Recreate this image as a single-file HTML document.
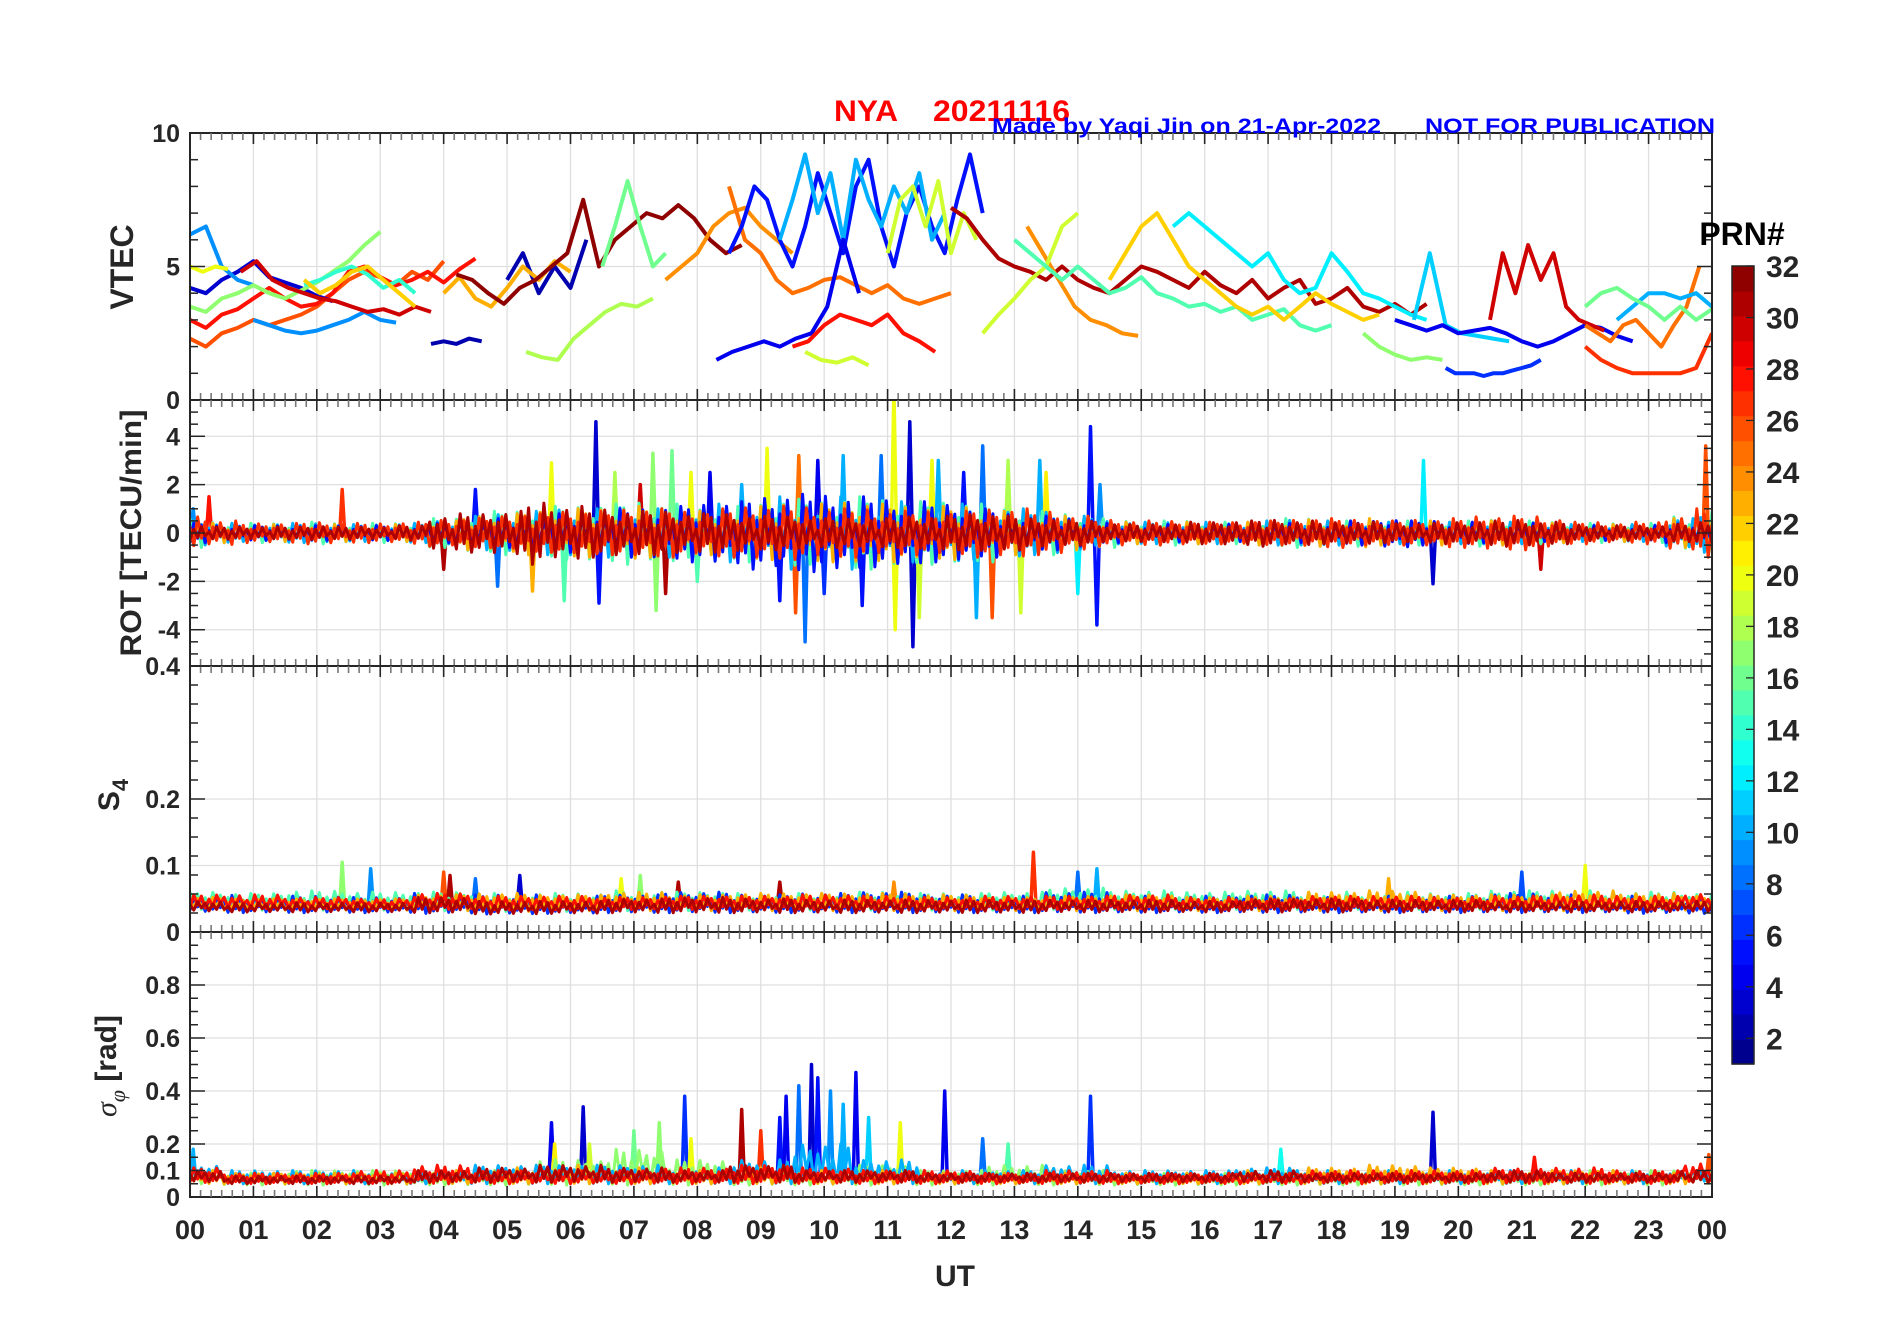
<!DOCTYPE html>
<html><head><meta charset="utf-8"><title>NYA 20211116</title>
<style>
html,body{margin:0;padding:0;background:#fff;}
svg{display:block;font-family:"Liberation Sans",Arial,sans-serif;}
</style></head>
<body>
<svg id="fig" width="1902" height="1330" viewBox="0 0 1902 1330" xmlns="http://www.w3.org/2000/svg">
<defs>
<clipPath id="c1"><rect x="190" y="133" width="1522" height="267"/></clipPath>
<clipPath id="c2"><rect x="190" y="400" width="1522" height="266"/></clipPath>
<clipPath id="c3"><rect x="190" y="666" width="1522" height="266"/></clipPath>
<clipPath id="c4"><rect x="190" y="932" width="1522" height="265"/></clipPath>
</defs>
<g id="grid"></g>
<g id="marks"></g>
<g id="axes"></g>
<g id="cbar"></g>
<text y="121" fill="#ff0000" font-size="30" font-weight="bold"><tspan x="834" textLength="64" lengthAdjust="spacingAndGlyphs">NYA</tspan><tspan x="933" textLength="137" lengthAdjust="spacingAndGlyphs">20211116</tspan></text>
<text x="992" y="133" fill="#0000ff" font-size="21" font-weight="bold" textLength="389" lengthAdjust="spacingAndGlyphs">Made by Yaqi Jin on 21-Apr-2022</text>
<text x="1425" y="133" fill="#0000ff" font-size="21" font-weight="bold" textLength="290" lengthAdjust="spacingAndGlyphs">NOT FOR PUBLICATION</text>
<text x="955" y="1286" fill="#262626" font-size="30" font-weight="bold" text-anchor="middle">UT</text>
<text transform="translate(133,267) rotate(-90)" fill="#262626" font-size="32" font-weight="bold" text-anchor="middle">VTEC</text>
<text transform="translate(141,533) rotate(-90)" fill="#262626" font-size="30" font-weight="bold" text-anchor="middle" textLength="247" lengthAdjust="spacingAndGlyphs">ROT [TECU/min]</text>
<text transform="translate(119,795) rotate(-90)" fill="#262626" font-size="30" font-weight="bold" text-anchor="middle">S<tspan font-size="22" dy="9">4</tspan></text>
<text transform="translate(116,1066) rotate(-90)" fill="#262626" font-size="30" font-weight="bold" text-anchor="middle"><tspan font-family="Liberation Serif,serif" font-style="italic" font-weight="normal">σ</tspan><tspan font-family="Liberation Serif,serif" font-style="italic" font-weight="normal" font-size="22" dy="9">φ</tspan><tspan dy="-9"> [rad]</tspan></text>
<text x="1742" y="245" fill="#000" font-size="32" font-weight="bold" text-anchor="middle">PRN#</text>
</svg>
<script>
// ---------- data ----------
var hourLabels = ["00","01","02","03","04","05","06","07","08","09","10","11","12","13","14","15","16","17","18","19","20","21","22","23","00"];
var vtecTicks = [0,5,10];
var rotTicks = [-4,-2,0,2,4];
var s4Ticks = [0,0.1,0.2,0.4];
var sigTicks = [0,0.1,0.2,0.4,0.6,0.8];
var cbarTicks = [2,4,6,8,10,12,14,16,18,20,22,24,26,28,30,32];

// VTEC tracks: PRN, start hour, step (h), values
var trackPrn   = [26,28,3,9,9,17,14,30,22,20,2,2,23,32,18,16,24,25,5,10,4,28,19,19,31,24,19,15,22,12,11,4,17,6,30,27,25,10,16];
var trackStart = [0,0,0,0,1.0,0,1.8,0.8,1.8,0,3.8,5.0,4.0,4.2,5.3,6.5,7.5,8.5,8.5,9.3,8.3,9.5,9.7,11.0,12.0,13.2,12.5,13.0,14.5,15.5,19.3,19.0,18.5,19.8,20.5,22.0,22.0,22.5,22.0];
var trackStep  = [0.25,0.25,0.25,0.25,0.25,0.25,0.25,0.25,0.25,0.2,0.2,0.25,0.25,0.25,0.25,0.2,0.25,0.25,0.2,0.2,0.25,0.25,0.25,0.2,0.25,0.25,0.25,0.25,0.25,0.25,0.25,0.25,0.25,0.15,0.2,0.25,0.2,0.25,0.25];
var trackVals  = [
 [2.3,2.0,2.5,2.7,3.0,2.8,3.0,3.2,3.5,4.0,4.5,4.8,4.6,4.3,4.8,4.5,5.2],
 [3.0,2.7,3.2,3.4,3.8,4.2,3.8,3.5,3.6,4.0,4.8,5.0,4.6,4.3,4.5,4.8,4.4,4.9,5.3],
 [4.2,4.0,4.5,4.8,5.2,4.6,4.4,4.2,3.9,3.7],
 [6.2,6.5,5.0,4.5,4.3],
 [3.0,2.8,2.6,2.5,2.6,2.8,3.0,3.3,3.0,2.9],
 [3.5,3.3,3.8,4.0,4.3,4.0,3.8,4.1,4.4,4.8,5.2,5.8,6.3],
 [4.3,4.5,4.8,5.0,4.7,4.2,4.5,4.0],
 [4.8,5.2,4.5,4.2,4.0,3.8,3.7,3.5,3.3,3.4,3.2,3.5,3.3],
 [4.5,4.0,4.3,4.8,5.0,4.5,4.0,3.5],
 [5.0,4.8,5.0,4.9],
 [2.1,2.2,2.1,2.3,2.2],
 [4.5,5.5,4.0,5.0,4.2,6.0],
 [4.0,4.6,3.8,3.5,4.2,5.0,4.5,5.2,4.8],
 [4.7,4.5,4.0,3.6,4.2,4.5,5.0,5.5,7.5,5.0,6.0,6.5,7.0,6.8,7.3,6.8,6.0,5.5,5.8],
 [1.8,1.6,1.5,2.3,2.8,3.3,3.6,3.5,3.8],
 [5.0,6.5,8.2,6.5,5.0,5.5],
 [4.5,5.0,5.5,6.5,7.0,7.2,6.5,6.0,5.5],
 [8.0,6.0,5.5,4.5,4.0,4.2,4.5,4.6,4.3,4.0,4.3,3.8,3.6,3.8,4.0],
 [5.5,6.5,8.0,7.5,6.0,5.0,6.5,8.5,7.0,5.5,8.0,9.0,6.5,5.0,7.0,8.0,6.5,5.5,7.5,9.2,7.0],
 [6.0,7.5,9.2,7.0,8.5,6.0,9.0,7.5,6.5,8.0,7.0,8.5,6.0,7.0],
 [1.5,1.8,2.0,2.2,2.0,2.3,2.5,3.5,6.0,4.0],
 [2.0,2.2,2.8,3.2,3.0,2.8,3.2,2.5,2.2,1.8],
 [1.8,1.5,1.4,1.6,1.3],
 [5.5,7.5,8.0,6.5,8.2,5.5,7.0,6.0],
 [7.2,6.8,6.0,5.3,5.0,4.8,4.5,5.0,4.5,4.2,4.0,4.5,5.0,4.8,4.5,4.2,4.8,4.3,4.0,4.5,3.8,4.2,4.5,3.6,3.8,4.2,3.5,3.3,3.6,3.2,3.6],
 [6.5,5.5,4.5,3.5,3.0,2.8,2.5,2.4],
 [2.5,3.2,3.8,4.5,5.0,6.5,7.0],
 [6.0,5.5,5.0,4.5,5.0,4.5,4.0,4.2,4.6,4.0,3.8,3.5,3.6,3.3,3.5,3.0,3.2,3.4,2.8,2.6,2.8],
 [4.5,5.5,6.5,7.0,6.0,5.0,4.5,4.0,3.5,3.2,3.5,3.0,3.5,4.0,3.6,3.3,3.0,3.2],
 [6.5,7.0,6.5,6.0,5.5,5.0,5.5,4.5,4.0,4.2,5.5,4.8,4.0,3.8,3.5,3.2,3.0],
 [3.0,5.5,2.8,2.5,2.4,2.3,2.2],
 [3.0,2.8,2.6,2.8,2.5,2.6,2.7,2.5,2.2,2.0,2.2,2.5,2.8,2.7,2.4,2.2],
 [2.5,2.0,1.7,1.5,1.6,1.5],
 [1.2,1.0,1.0,1.0,0.9,1.0,1.0,1.1,1.2,1.3,1.5],
 [3.0,5.5,4.0,5.8,4.5,5.5,3.5,3.0,2.8,2.6],
 [2.0,1.5,1.2,1.0,1.0,1.0,1.0,1.2,2.5],
 [2.8,2.5,2.2,2.8,3.0,2.5,2.0,2.8,3.5,5.0],
 [3.0,3.5,4.0,4.0,3.8,4.0,3.5],
 [3.5,4.0,4.2,3.8,3.5,3.0,3.5,3.0,3.4]
];

// ROT noise bands: PRN and half-amplitude every 0.5 h (49 values)
var rotBandPrn = [15,10,23,5,27,31];
var rotBandAmp = [
 [.6,.45,.4,.4,.45,.4,.4,.4, .6,.8,.9,1.0,1.1,1.2,1.3,1.2, 1.0,1.1,1.2,1.4,1.3,1.5,1.4,1.3, 1.3,1.2,1.0,.9,.8,.6,.5,.5, .5,.45,.55,.6,.5,.55,.5,.5, .5,.55,.5,.45,.4,.4,.4,.7,.9],
 [.55,.4,.35,.4,.4,.35,.35,.4, .5,.7,.8,.9,1.0,1.0,1.1,1.0, 1.1,1.2,1.3,1.5,1.4,1.5,1.3,1.2, 1.2,1.1,1.0,.9,.7,.5,.45,.45, .45,.4,.5,.55,.5,.5,.45,.45, .45,.5,.45,.4,.35,.35,.35,.6,.8],
 [.5,.4,.35,.35,.4,.35,.35,.35, .5,.7,.8,.9,1.0,1.0,1.1,1.0, .9,1.0,1.1,1.2,1.2,1.3,1.2,1.1, 1.1,1.0,.9,.8,.7,.5,.45,.45, .45,.45,.5,.55,.55,.6,.5,.5, .5,.5,.45,.4,.35,.35,.35,.6,.9],
 [.4,.3,.3,.3,.3,.3,.3,.3, .4,.5,.6,.7,.8,.9,1.0,1.1, 1.2,1.3,1.5,1.6,1.6,1.5,1.4,1.3, 1.2,1.0,.8,.7,.6,.4,.35,.35, .35,.35,.4,.4,.45,.5,.6,.5, .45,.4,.4,.35,.3,.3,.3,.4,.5],
 [.7,.5,.4,.4,.45,.4,.4,.45, .55,.6,.7,.8,.9,.9,1.0,1.0, .9,1.0,1.1,1.1,1.0,1.0,.9,.9, .9,1.0,1.0,.9,.7,.55,.5,.5, .45,.45,.5,.55,.6,.55,.5,.55, .6,.7,.7,.6,.45,.4,.45,.7,1.0],
 [.3,.25,.25,.25,.3,.25,.25,.3, .7,.8,.9,1.3,1.1,1.0,.9,.9, .8,.8,.7,.7,.6,.6,.6,.7, .7,.8,.7,.6,.5,.4,.35,.4, .45,.5,.55,.5,.45,.45,.4,.4, .45,.5,.55,.45,.35,.3,.3,.35,.45]
];
// ROT spikes: hour, value, PRN
var rotSpikeT = [0.05,0.3,2.4,4.0,4.5,4.85,5.4,5.7,5.9,6.4,6.45,6.7,7.1,7.3,7.35,7.5,7.6,7.9,8.0,8.2,8.7,9.1,9.3,9.55,9.6,9.7,9.9,10.0,10.3,10.6,10.9,11.1,11.12,11.35,11.4,11.5,11.7,11.8,12.2,12.4,12.5,12.65,12.9,13.1,13.4,13.5,14.0,14.2,14.3,14.35,19.45,19.6,21.3,23.9,23.95];
var rotSpikeV = [1.0,1.5,1.8,-1.5,1.8,-2.2,-2.4,2.9,-2.8,4.6,-2.9,2.5,2.0,3.3,-3.2,-2.5,3.4,2.5,-2.0,2.5,2.0,3.5,-2.8,-3.3,3.2,-4.5,3.0,-2.5,3.2,-3.0,3.2,6.0,-4.0,4.6,-4.7,-3.5,3.0,3.0,2.5,-3.5,3.6,-3.5,3.0,-3.3,3.0,2.5,-2.5,4.4,-3.8,2.0,3.0,-2.1,-1.5,3.6,-0.8];
var rotSpikeP = [9,28,27,31,5,8,23,20,15,3,5,18,30,17,17,31,16,20,15,4,10,20,5,26,25,8,4,6,10,5,8,20,20,3,3,19,20,10,5,10,8,26,18,19,10,21,12,5,5,9,12,3,30,26,17];

// S4 bands: PRN, low and high every 1 h (25 values)
var s4BandPrn = [15,6,23,28,31];
var s4BandLo = [
 [.034,.033,.033,.033,.032,.031,.031,.032,.032,.033,.033,.033,.033,.033,.034,.034,.034,.034,.034,.034,.034,.034,.034,.034,.034],
 [.030,.029,.029,.029,.028,.027,.028,.029,.029,.029,.029,.029,.029,.029,.029,.029,.029,.029,.029,.029,.029,.029,.029,.028,.028],
 [.033,.033,.033,.033,.032,.031,.032,.032,.032,.032,.032,.032,.032,.032,.032,.032,.032,.032,.032,.032,.032,.032,.032,.032,.033],
 [.036,.035,.035,.035,.034,.033,.033,.034,.034,.034,.034,.034,.034,.034,.034,.034,.034,.034,.034,.034,.034,.034,.034,.034,.035],
 [.031,.030,.030,.030,.029,.027,.028,.029,.029,.029,.029,.029,.029,.029,.030,.030,.030,.030,.030,.030,.030,.030,.030,.030,.031]
];
var s4BandHi = [
 [.060,.058,.062,.060,.060,.058,.058,.062,.060,.058,.058,.060,.058,.060,.066,.062,.060,.062,.060,.060,.058,.062,.062,.060,.058],
 [.052,.055,.054,.052,.058,.056,.054,.056,.060,.056,.058,.060,.056,.054,.060,.054,.054,.056,.052,.054,.054,.058,.056,.054,.050],
 [.052,.050,.050,.050,.056,.058,.056,.060,.056,.058,.058,.058,.056,.052,.054,.056,.052,.054,.060,.062,.056,.056,.062,.058,.054],
 [.056,.056,.052,.050,.058,.054,.054,.052,.054,.054,.056,.054,.052,.054,.054,.056,.052,.050,.054,.054,.052,.054,.056,.054,.058],
 [.046,.044,.044,.044,.052,.046,.046,.050,.052,.050,.048,.048,.048,.048,.048,.048,.046,.050,.050,.048,.048,.046,.046,.046,.046]
];
var s4SpikeT = [2.4,2.85,4.0,4.1,4.5,5.2,6.8,7.1,7.7,9.3,11.1,13.3,14.0,14.3,21.0,22.0,18.9];
var s4SpikeV = [.105,.095,.09,.085,.08,.085,.08,.085,.075,.075,.075,.12,.09,.095,.09,.1,.08];
var s4SpikeP = [17,9,26,31,8,3,20,17,31,31,24,27,8,10,7,20,23];

// sigma-phi bands: PRN, low and high every 1 h (25 values)
var sigBandPrn = [17,10,23,28,31];
var sigBandLo = [
 [.05,.045,.045,.045,.045,.045,.045,.045,.045,.045,.045,.045,.045,.045,.045,.045,.045,.045,.045,.045,.045,.045,.045,.045,.05],
 [.06,.05,.05,.05,.05,.05,.05,.05,.05,.05,.05,.05,.05,.05,.05,.05,.05,.05,.05,.05,.05,.05,.05,.05,.06],
 [.05,.05,.05,.05,.05,.05,.05,.05,.05,.05,.05,.05,.05,.05,.05,.05,.05,.05,.05,.05,.05,.05,.05,.05,.05],
 [.055,.05,.05,.05,.05,.05,.05,.05,.05,.05,.05,.05,.05,.05,.05,.05,.05,.05,.05,.05,.05,.05,.05,.05,.055],
 [.055,.05,.05,.05,.055,.055,.055,.055,.055,.055,.055,.055,.055,.055,.055,.055,.055,.055,.055,.055,.055,.055,.055,.055,.055]
];
var sigBandHi = [
 [.10,.09,.10,.10,.09,.10,.14,.18,.14,.10,.10,.12,.10,.12,.10,.09,.09,.09,.09,.10,.09,.09,.10,.10,.10],
 [.12,.10,.10,.10,.10,.12,.12,.12,.11,.14,.20,.14,.10,.10,.12,.10,.10,.11,.10,.10,.10,.10,.10,.10,.10],
 [.10,.09,.09,.09,.10,.11,.12,.11,.10,.11,.10,.10,.09,.09,.09,.09,.09,.10,.11,.12,.11,.10,.10,.09,.10],
 [.11,.09,.09,.10,.12,.10,.10,.10,.11,.12,.11,.10,.10,.09,.10,.09,.09,.09,.10,.10,.10,.11,.11,.10,.13],
 [.10,.08,.08,.08,.10,.11,.12,.11,.10,.12,.10,.10,.09,.09,.09,.09,.09,.10,.09,.09,.09,.10,.09,.09,.10]
];
var sigSpikeT = [0.05,5.7,5.75,6.2,6.3,7.0,7.4,7.8,7.9,8.7,9.0,9.3,9.4,9.6,9.8,9.9,10.1,10.3,10.5,10.7,11.2,11.9,12.5,12.9,14.2,17.2,19.6,21.2,23.95];
var sigSpikeV = [.18,.28,.2,.34,.2,.25,.28,.38,.22,.33,.25,.3,.38,.42,.5,.45,.4,.35,.47,.3,.28,.4,.22,.2,.38,.18,.32,.15,.16];
var sigSpikeP = [10,4,21,3,19,16,17,6,20,31,27,5,4,8,3,5,9,10,4,11,20,4,8,15,6,13,3,28,26];

// ---------- geometry ----------
var X0 = 190, X1 = 1712;
function X(t){ return X0 + t*(X1-X0)/24; }
function Yv(v){ return 400 - v*26.7; }
function Yr(v){ return 533 - v*(133/5.5); }
function Ys(v){ return 932 - v*(266/0.4); }
function Yp(v){ return 1197 - v*265; }
function jet(p){
  var x = (p-0.5)/32;
  function c(a){ return Math.round(255*Math.max(0,Math.min(1,a))); }
  return 'rgb('+c(1.5-Math.abs(4*x-3))+','+c(1.5-Math.abs(4*x-2))+','+c(1.5-Math.abs(4*x-1))+')';
}
var NS = 'http://www.w3.org/2000/svg';
function mk(tag, attrs, parent){
  var e = document.createElementNS(NS, tag);
  for (var k in attrs) e.setAttribute(k, attrs[k]);
  parent.appendChild(e);
  return e;
}
var grid = document.getElementById('grid');
var marks = document.getElementById('marks');
var axes = document.getElementById('axes');
var cbar = document.getElementById('cbar');

var panels = [
 {top:133,bot:400,y:Yv,ticks:vtecTicks,minor:1,lo:0,hi:10,name:'vtec'},
 {top:400,bot:666,y:Yr,ticks:rotTicks,minor:0.5,lo:-5.5,hi:5.5,name:'rot'},
 {top:666,bot:932,y:Ys,ticks:s4Ticks,minor:0.4/14,lo:0,hi:0.4,name:'s4'},
 {top:932,bot:1197,y:Yp,ticks:sigTicks,minor:0.05,lo:0,hi:1,name:'sigma'}
];

// grid
panels.forEach(function(p){
  for (var h=1; h<24; h++){
    var g = mk('line',{x1:X(h),x2:X(h),y1:p.top,y2:p.bot,stroke:'#dfdfdf','stroke-width':1.3},grid);
    
    
  }
  p.ticks.forEach(function(v){
    var yy = p.y(v);
    if (yy>p.top+1 && yy<p.bot-1){
      var g2 = mk('line',{x1:X0,x2:X1,y1:yy,y2:yy,stroke:'#dfdfdf','stroke-width':1.3},grid);
      
      
    }
  });
});

// VTEC tracks
var gV = mk('g',{'clip-path':'url(#c1)'},marks);


trackVals.forEach(function(vals,i){
  var pts = vals.map(function(v,j){ return X(trackStart[i]+j*trackStep[i]).toFixed(1)+','+Yv(v).toFixed(1); }).join(' ');
  var pl = mk('polyline',{points:pts,fill:'none',stroke:jet(trackPrn[i]),'stroke-width':4,'stroke-linejoin':'round'},gV);
  
  
});

// noisy band drawn as zigzag between envelope values (fixed oscillation pattern)
var zig = [1,-0.55,0.8,-1,0.35,-0.75,0.95,-0.3,0.65,-0.9,0.5,-0.6,0.85,-0.4,0.2,-0.95];
var ZSTEP = 0.06;
function bands(parent, prns, loArr, hiArr, step, yfn, nm, sw){
  prns.forEach(function(prn,i){
    var hi = hiArr[i], lo = loArr ? loArr[i] : null;
    var pts = [], k = 0, n = Math.round(24/ZSTEP);
    for (var s=0; s<=n; s++){
      var t = s*ZSTEP, idx = Math.min(hi.length-1, Math.round(t/step));
      var z = zig[(s + i*5) % zig.length], v;
      if (lo) v = lo[idx] + (hi[idx]-lo[idx])*(z+1)/2;
      else v = hi[idx]*z;
      pts.push(X(t).toFixed(1)+','+yfn(v).toFixed(1));
    }
    var pl = mk('polyline',{points:pts.join(' '),fill:'none',stroke:jet(prn),'stroke-width':sw,'stroke-linejoin':'round'},parent);
    
    
  });
}
function spikes(parent, T, V, P, base, yfn, nm){
  T.forEach(function(t,i){
    var pts = X(t-0.04).toFixed(1)+','+yfn(base).toFixed(1)+' '+X(t).toFixed(1)+','+yfn(V[i]).toFixed(1)+' '+X(t+0.04).toFixed(1)+','+yfn(base).toFixed(1);
    var pl = mk('polyline',{points:pts,fill:'none',stroke:jet(P[i]),'stroke-width':3.5,'stroke-linejoin':'round'},parent);
    
    
  });
}

var gR = mk('g',{'clip-path':'url(#c2)'},marks);


spikes(gR, rotSpikeT, rotSpikeV, rotSpikeP, 0, Yr, 'rot');
bands(gR, rotBandPrn, null, rotBandAmp, 0.5, Yr, 'rot', 3);

var gS = mk('g',{'clip-path':'url(#c3)'},marks);


spikes(gS, s4SpikeT, s4SpikeV, s4SpikeP, 0.04, Ys, 's4');
bands(gS, s4BandPrn, s4BandLo, s4BandHi, 1, Ys, 's4', 3);

var gP = mk('g',{'clip-path':'url(#c4)'},marks);


spikes(gP, sigSpikeT, sigSpikeV, sigSpikeP, 0.07, Yp, 'sigma');
bands(gP, sigBandPrn, sigBandLo, sigBandHi, 1, Yp, 'sigma', 3);

// axes
panels.forEach(function(p){
  var r = mk('rect',{x:X0,y:p.top,width:X1-X0,height:p.bot-p.top,fill:'none',stroke:'#262626','stroke-width':2},axes);
  
  
  for (var m=0; m<=144; m++){
    var major = (m%6===0);
    var L = major?11:7, col = major?'#262626':'#777';
    mk('line',{x1:X(m/6),x2:X(m/6),y1:p.top,y2:p.top+L,stroke:col,'stroke-width':1.6},axes);
    mk('line',{x1:X(m/6),x2:X(m/6),y1:p.bot,y2:p.bot-L,stroke:col,'stroke-width':1.6},axes);
  }
  var n = Math.round((p.hi-p.lo)/p.minor);
  for (var k=0; k<=n; k++){
    var v = p.lo + k*p.minor, yy = p.y(v);
    var isMaj = p.ticks.some(function(t){return Math.abs(t-v)<1e-6;});
    var L2 = isMaj?15:8;
    mk('line',{x1:X0,x2:X0+L2,y1:yy,y2:yy,stroke:'#262626','stroke-width':1.5},axes);
    mk('line',{x1:X1,x2:X1-L2,y1:yy,y2:yy,stroke:'#262626','stroke-width':1.5},axes);
  }
  p.ticks.forEach(function(v){
    var t = mk('text',{x:180,y:p.y(v)+9,'text-anchor':'end','font-size':25,'font-weight':'bold',fill:'#262626'},axes);
    t.textContent = String(v);
    
    
  });
});
hourLabels.forEach(function(lab,h){
  var t = mk('text',{x:X(h),y:1239,'text-anchor':'middle','font-size':27,'font-weight':'bold',fill:'#262626'},axes);
  t.textContent = lab;
  
  
});

// colorbar
function Yc(v){ return 266 + (32-v)*(798/31); }
for (var b=1; b<=32; b++){
  var bh = 798/32;
  var rc = mk('rect',{x:1732,y:(1064-b*bh).toFixed(2),width:22,height:(bh+0.6).toFixed(2),fill:jet(b)},cbar);
  
  
}
var cb = mk('rect',{x:1732,y:266,width:22,height:798,fill:'none',stroke:'#262626','stroke-width':1.5},cbar);


cbarTicks.forEach(function(v){
  mk('line',{x1:1746,x2:1754,y1:Yc(v),y2:Yc(v),stroke:'#262626','stroke-width':1.3},cbar);
  var t = mk('text',{x:1766,y:Yc(v)+11,'font-size':30,'font-weight':'bold',fill:'#262626'},cbar);
  t.textContent = String(v);
  
  
});
</script>
</body></html>
